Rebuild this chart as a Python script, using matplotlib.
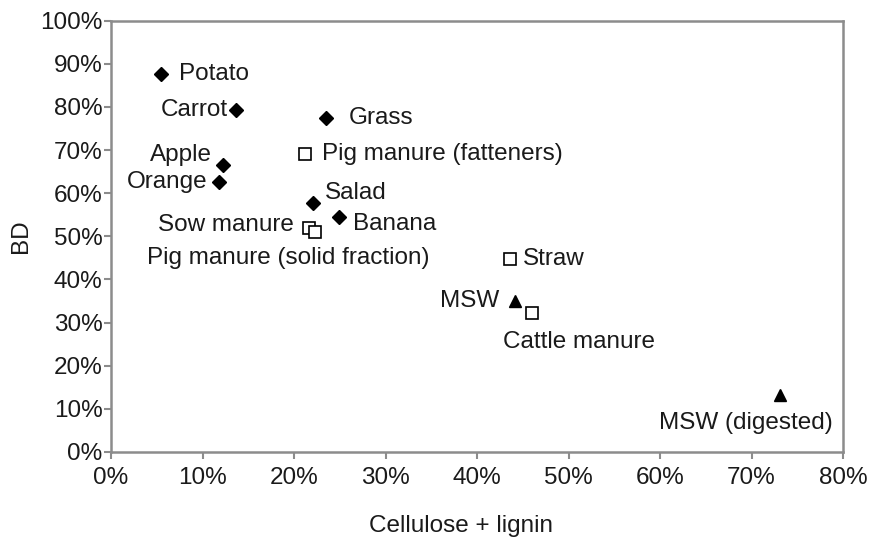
import matplotlib
matplotlib.use("Agg")
import matplotlib.pyplot as plt
from matplotlib.ticker import PercentFormatter

plt.rcParams['font.family'] = ['Liberation Sans', 'DejaVu Sans']

# Data (fractions)
veg_names = ["Potato", "Carrot", "Grass", "Apple", "Orange", "Salad", "Banana"]
veg_x = [0.055, 0.137, 0.235, 0.122, 0.118, 0.221, 0.249]
veg_y = [0.877, 0.794, 0.774, 0.666, 0.626, 0.577, 0.545]

manure_names = ["Pig manure (fatteners)", "Sow manure", "Pig manure (solid fraction)",
                "Straw", "Cattle manure"]
manure_x = [0.212, 0.216, 0.223, 0.436, 0.460]
manure_y = [0.691, 0.519, 0.510, 0.448, 0.322]

msw_names = ["MSW", "MSW (digested)"]
msw_x = [0.442, 0.731]
msw_y = [0.351, 0.131]

xticks = [0, 0.1, 0.2, 0.3, 0.4, 0.5, 0.6, 0.7, 0.8]
yticks = [0, 0.1, 0.2, 0.3, 0.4, 0.5, 0.6, 0.7, 0.8, 0.9, 1.0]

# label offsets (pixels) and alignment
label_style = {
    "Potato": (18, 0, "left"),
    "Carrot": (-8, 0, "right"),
    "Grass": (23, 0, "left"),
    "Apple": (-11, 10, "right"),
    "Orange": (-11, 0, "right"),
    "Salad": (12, 10, "left"),
    "Banana": (14, -7, "left"),
    "Pig manure (fatteners)": (17, 0, "left"),
    "Sow manure": (-15, 3, "right"),
    "Pig manure (solid fraction)": (-27, -26, "center"),
    "Straw": (13, 0, "left"),
    "Cattle manure": (-29, -29, "left"),
    "MSW": (-16, 0, "right"),
    "MSW (digested)": (53, -28, "right"),
}

FS = 17.5
fig = plt.figure(figsize=(8.84, 5.42), dpi=100)
ax = fig.add_axes([111/884, 1-452/542, (843-111)/884, (452-20.7)/542])

ax.plot(veg_x, veg_y, linestyle='none', marker='D', ms=7, color='black')
ax.plot(manure_x, manure_y, linestyle='none', marker='s', ms=8, mfc='white',
        mec='black', mew=1.2)
ax.plot(msw_x, msw_y, linestyle='none', marker='^', ms=9, color='black')

txt_color = '#1a1a1a'
for names, xs, ys in [(veg_names, veg_x, veg_y), (manure_names, manure_x, manure_y),
                      (msw_names, msw_x, msw_y)]:
    for n, x, y in zip(names, xs, ys):
        dx, dy, ha = label_style[n]
        ax.annotate(n, (x, y), xytext=(dx, dy), textcoords='offset pixels',
                    ha=ha, va='center', fontsize=FS, color=txt_color)

ax.set_xlim(0, 0.8)
ax.set_ylim(0, 1.0)
ax.set_xticks(xticks)
ax.set_yticks(yticks)
ax.xaxis.set_major_formatter(PercentFormatter(1.0, decimals=0))
ax.yaxis.set_major_formatter(PercentFormatter(1.0, decimals=0))

for s in ax.spines.values():
    s.set_color('#8c8c8c')
    s.set_linewidth(1.8)
ax.tick_params(axis='both', direction='out', length=5, width=1.5, color='#8c8c8c',
               labelsize=FS, labelcolor=txt_color)
ax.tick_params(axis='y', pad=1)
ax.tick_params(axis='x', pad=6)

ax.set_xlabel("Cellulose + lignin", fontsize=FS, color=txt_color)
ax.set_ylabel("BD", fontsize=FS, color=txt_color, labelpad=6)
ax.xaxis.set_label_coords(0.478, -0.145)

fig.savefig("out.png", dpi=100, facecolor='white')
